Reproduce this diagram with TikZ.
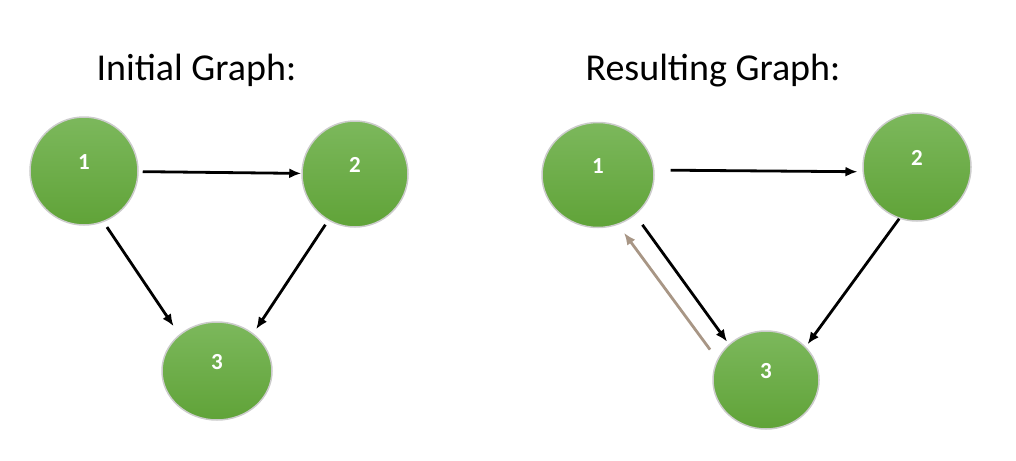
\documentclass[tikz,border=0pt]{standalone}
\usepackage{fontspec}
\setmainfont{Carlito}
\usetikzlibrary{arrows.meta,shapes.geometric}

\definecolor{nodetop}{RGB}{124,184,92}
\definecolor{nodebot}{RGB}{96,163,56}
\definecolor{backarrow}{RGB}{168,150,133}

\begin{document}
\begin{tikzpicture}[>={Latex[length=12pt,width=10pt]}, x=1pt, y=-1pt,
	vtx/.style={ellipse, inner sep=0pt, top color=nodetop, bottom color=nodebot, draw=black!20, line width=1.5pt},
	num/.style={text=white, font=\fontsize{23}{27}\selectfont\bfseries, yshift=9pt},
	link/.style={->, line width=2.8pt},
	title/.style={anchor=base west, font=\fontsize{38}{45}\selectfont}]
	\useasboundingbox (0,0) rectangle (1016,460);

	% titles of both graphs
	\node[title] (tleft) at (93,81) {Initial Graph:};
	\node[title] (tright) at (582,81) {Resulting Graph:};

	% nodes of the initial graph
	\node[vtx, minimum width=108pt, minimum height=108pt, label={[num]center:1}] (i1) at (84,171) {};
	\node[vtx, minimum width=106pt, minimum height=106pt, label={[num]center:2}] (i2) at (355,174) {};
	\node[vtx, minimum width=110pt, minimum height=98pt, label={[num]center:3}] (i3) at (217,371) {};

	% edges of the initial graph
	\draw[link, shorten <=4pt] (i1) -- (i2);
	\draw[link, shorten <=6pt, shorten >=10pt] (i1.-69) -- (i3.136);
	\draw[link, shorten <=5pt, shorten >=5pt] (i2.-120) -- (i3.46);

	% nodes of the resulting graph
	\node[vtx, minimum width=112pt, minimum height=105pt, label={[num]center:1}] (r1) at (598,175) {};
	\node[vtx, minimum width=108pt, minimum height=108pt, label={[num]center:2}] (r2) at (917,167) {};
	\node[vtx, minimum width=106pt, minimum height=98pt, label={[num]center:3}] (r3) at (766,380) {};

	% edges of the resulting graph
	\draw[link, shorten <=16pt, shorten >=5pt] (r1.5) -- (r2.185);
	\draw[link, shorten <=12pt, shorten >=3pt] (r1.-47) -- (r3.136);
	\draw[link, shorten >=3pt] (r2.-109) -- (r3.40);
	% the new edge back to 1
	\draw[link, backarrow, shorten <=12pt, shorten >=10pt] (r3.157) -- (r1.-68);
\end{tikzpicture}
\end{document}
